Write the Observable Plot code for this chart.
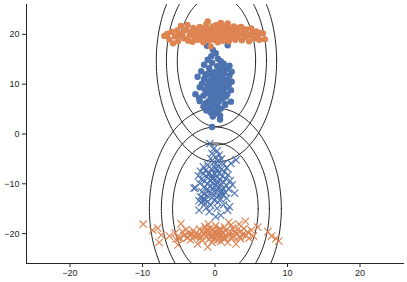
<!DOCTYPE html>
<html><head><meta charset="utf-8">
<script src="https://cdn.jsdelivr.net/npm/d3@7"></script>
<script src="https://cdn.jsdelivr.net/npm/@observablehq/plot@0.6"></script>
<style>body{margin:0;background:#fff}</style>
</head><body><div id="chart"></div>
<script>
const orangeCircles = [
[-7.0,19.7],[-6.6,20.1],[-6.3,19.0],[-6.0,20.5],[-5.8,18.2],[-5.5,19.6],[-5.2,20.8],[-5.1,18.6],[-4.9,19.9],[-4.7,21.7],
[-4.5,20.2],[-4.3,19.2],[-4.0,20.9],[-3.8,21.9],[-3.7,18.7],[-3.5,19.8],[-3.3,20.5],[-3.1,18.5],[-3.0,21.3],[-2.8,19.5],
[-2.7,20.1],[-2.5,20.9],[-2.4,18.9],[-2.2,19.7],[-2.1,21.5],[-2.0,20.3],[-1.8,19.1],[-1.7,20.7],[-1.6,18.4],[-1.5,21.2],
[-1.4,19.9],[-1.3,20.5],[-1.2,22.0],[-1.1,19.3],[-1.0,22.6],[-0.9,20.0],[-0.8,18.8],[-0.7,21.0],[-0.6,17.6],[-0.5,20.4],
[-0.4,19.5],[-0.3,21.6],[-0.2,20.1],[-0.1,18.9],[0.0,20.7],[0.1,19.8],[0.2,21.9],[0.3,20.3],[0.4,18.4],[0.5,19.6],
[0.6,21.2],[0.7,20.0],[0.8,22.3],[0.9,19.2],[1.0,20.6],[1.1,18.7],[1.2,21.4],[1.3,20.2],[1.4,19.5],[1.5,20.9],
[1.6,21.8],[1.75,22.2],[1.8,19.9],[1.9,18.6],[2.0,20.5],[2.2,21.1],[2.3,19.3],[2.5,20.2],[2.6,21.6],[2.8,18.9],
[2.9,20.7],[3.1,19.6],[3.2,21.3],[3.4,20.1],[3.6,21.5],[3.7,18.8],[3.9,20.4],[4.1,19.4],[4.3,21.0],[4.5,20.0],
[4.7,18.6],[4.9,19.8],[5.0,21.2],[5.2,20.4],[5.4,19.2],[5.7,20.6],[5.9,19.8],[6.1,18.9],[6.3,20.3],[6.6,20.2],[6.9,19.0]
];
const blueCircles = [
[-1.1,17.7],[1.75,17.8],[-0.3,16.9],[0.1,16.2],[-0.5,15.6],[0.4,15.1],[-1.0,14.9],[0.8,14.6],[-0.4,14.3],[1.2,14.1],
[-1.5,13.9],[2.0,13.7],[0.3,13.6],[-0.8,13.2],[1.6,13.0],[0.6,12.8],[-1.9,12.6],[2.3,12.5],[-0.1,12.4],[1.3,12.2],
[-1.2,12.0],[0.5,11.9],[2.0,11.7],[-0.5,11.6],[-2.4,11.5],[1.0,11.4],[0.0,11.2],[-1.5,11.0],[1.7,10.9],[0.6,10.8],
[-0.8,10.6],[2.3,10.5],[-0.3,10.4],[1.1,10.3],[-1.8,10.1],[0.4,10.0],[1.9,9.9],[-1.0,9.8],[0.1,9.6],[-2.1,9.4],
[1.4,9.3],[-0.5,9.2],[0.8,9.0],[-1.4,8.9],[2.2,8.8],[0.3,8.7],[-0.3,8.5],[-2.7,8.0],[1.1,8.4],[-1.1,8.2],
[1.7,8.0],[0.0,7.9],[-1.6,7.7],[0.6,7.6],[1.5,7.5],[-0.6,7.4],[-2.2,7.2],[1.0,7.1],[-0.1,6.9],[-2.1,6.6],
[2.2,6.5],[-0.9,6.6],[0.5,6.4],[-1.3,6.2],[1.4,6.1],[-0.4,6.0],[1.4,5.8],[0.3,5.6],[-1.6,5.5],[-0.8,5.3],
[0.8,5.1],[-0.3,4.9],[-1.2,4.7],[0.4,4.5],[-0.6,4.3],[0.1,4.1],[0.7,3.7],[-0.3,3.5],[0.7,2.9],[-0.4,1.4],
[0.0,8.1],[-0.4,10.9],[0.9,12.0],[-0.6,8.8],[0.5,9.5],[1.5,10.6],[-1.3,11.8],[0.2,7.3],
[0.3,11.5],[-0.2,9.9],[0.6,10.2],[-0.7,12.3],[0.2,6.6],[1.0,13.4]
];
const blueCrosses = [
[-0.7,-1.9],[-0.2,-3.0],[0.3,-3.4],[-0.4,-3.9],[0.6,-4.2],[0.1,-4.6],[-0.6,-4.9],[0.9,-5.0],[2.9,-5.2],[0.4,-5.4],
[-0.2,-5.7],[2.2,-5.9],[1.2,-6.0],[-1.0,-6.2],[0.5,-6.4],[-1.6,-6.6],[0.0,-6.7],[1.6,-6.8],[-0.5,-7.0],[0.9,-7.1],
[-1.3,-7.3],[0.3,-7.4],[-2.0,-7.5],[1.3,-7.6],[-0.8,-7.8],[0.6,-7.9],[-1.6,-8.0],[0.0,-8.1],[1.8,-8.2],[-0.4,-8.3],
[-2.3,-8.4],[1.0,-8.5],[-1.1,-8.6],[0.3,-8.7],[-0.2,-8.9],[1.5,-9.0],[-1.9,-9.1],[0.7,-9.2],[-0.7,-9.3],[2.1,-9.4],
[-1.4,-9.5],[0.2,-9.6],[1.2,-9.7],[-0.3,-9.8],[-2.1,-9.9],[0.8,-10.0],[-1.0,-10.1],[2.4,-10.2],[0.0,-10.3],[1.6,-10.4],
[-0.6,-10.5],[-1.5,-10.6],[0.5,-10.7],[-2.7,-10.8],[1.1,-10.9],[-2.9,-10.9],[-0.2,-11.0],[1.9,-11.1],[-1.2,-11.2],[0.3,-11.3],
[-0.8,-11.4],[0.9,-11.5],[-1.8,-11.6],[1.4,-11.7],[2.7,-11.9],[0.0,-11.8],[-0.5,-12.0],[-1.5,-12.1],[0.6,-12.2],[1.1,-12.3],
[-1.1,-12.4],[-2.0,-12.6],[0.2,-12.7],[-0.4,-12.8],[1.6,-12.9],[-1.6,-13.0],[-1.3,-13.2],[0.8,-13.1],[-2.2,-13.4],[-0.1,-13.3],
[-1.7,-13.5],[-1.0,-13.6],[0.4,-13.7],[-1.9,-13.8],[-1.4,-14.0],[2.0,-14.6],[1.2,-14.2],[-0.6,-14.3],[-2.2,-15.3],[-0.8,-15.6],
[0.1,-16.6],[0.8,-16.3],[1.75,-15.3],[-1.2,-14.8],[0.3,-14.9],[-0.4,-9.0],[0.4,-9.9],[-0.9,-8.0],[1.0,-12.0],[0.2,-7.0]
];
const orangeCrosses = [
[-9.9,-18.1],[-8.6,-19.3],[-7.9,-18.9],[-7.4,-20.3],[-7.7,-21.8],[-6.3,-20.5],[-5.5,-19.9],[-5.1,-22.3],[-5.0,-21.0],[-4.7,-18.0],
[-4.5,-19.6],[-4.3,-20.4],[-4.0,-19.2],[-3.8,-20.8],[-3.6,-19.8],[-3.4,-21.3],[-3.2,-20.1],[-3.0,-19.4],[-2.8,-20.6],[-2.6,-19.9],
[-2.4,-22.1],[-2.3,-20.3],[-2.1,-19.1],[-2.0,-20.9],[-1.8,-19.6],[-1.7,-21.4],[-1.5,-20.2],[-1.4,-18.6],[-1.3,-19.8],[-1.2,-20.7],
[-1.1,-19.3],[-1.0,-22.7],[-0.9,-20.0],[-0.8,-21.1],[-0.7,-18.9],[-0.6,-19.6],[-0.5,-20.5],[-0.4,-21.8],[-0.3,-19.2],[-0.2,-20.2],
[-0.1,-19.7],[0.0,-20.9],[0.1,-18.4],[0.2,-20.4],[0.3,-21.4],[0.4,-19.5],[0.5,-20.1],[0.6,-20.8],[0.7,-19.0],[0.8,-21.6],
[0.9,-20.3],[1.0,-19.8],[1.2,-20.6],[1.3,-18.7],[1.4,-21.0],[1.5,-19.4],[1.75,-21.8],[1.9,-17.7],[2.0,-20.2],[2.1,-19.6],
[2.3,-20.9],[2.4,-18.9],[2.6,-20.4],[2.7,-19.7],[2.9,-22.1],[3.0,-20.0],[3.1,-19.2],[3.3,-18.1],[3.4,-20.6],[3.6,-19.5],
[3.8,-20.2],[4.0,-19.0],[4.2,-17.5],[4.3,-20.4],[4.5,-19.7],[4.7,-20.9],[5.0,-19.3],[5.3,-20.5],[5.9,-18.7],[7.3,-19.6],
[7.8,-20.5],[8.4,-21.0],[8.8,-21.5],[-1.9,-20.4],[-0.6,-20.8],[0.3,-19.9],[1.1,-20.9],[-2.5,-20.6],[2.5,-20.7],[-1.0,-19.4],
[0.6,-19.4],[-0.2,-21.2],[1.6,-20.5],[-3.5,-20.4],[3.5,-21.0],[-4.8,-20.9],[-0.9,-18.1],[2.2,-18.3],[-5.4,-21.1],[-3.8,-20.8]
];
// contour ellipses: [upper group, lower group]
const contourCenterX = [0.2, 0.05];
const contourCenterY = [14.7, -15.0];
const contourHalfWidths = [[8.3, 6.9, 5.4], [9.1, 7.45, 5.9]];
const contourHalfHeights = [[20.3, 16.9, 13.2], [20.2, 16.4, 13.2]];
const xTicks = [-20, -10, 0, 10, 20];
const yTicks = [-20, -10, 0, 10, 20];
const blue = "#4c72b0", orange = "#dd8452";

const ellipsePts = [];
contourCenterX.forEach((cx, g) => {
  contourHalfWidths[g].forEach((a, k) => {
    const b = contourHalfHeights[g][k];
    for (let t = 0; t <= 360; t += 2) {
      const r = t * Math.PI / 180;
      ellipsePts.push({id: g + "-" + k, x: cx + a * Math.cos(r), y: contourCenterY[g] + b * Math.sin(r)});
    }
  });
});

const chart = Plot.plot({
  width: 407, height: 282,
  marginLeft: 26, marginRight: 4, marginTop: 4, marginBottom: 19,
  style: {fontFamily: "Liberation Sans, Arial, sans-serif", fontSize: "9px", color: "#262626", background: "#fff"},
  x: {domain: [-26, 26], ticks: xTicks, tickFormat: d3.format("d"), line: true, tickSize: 4, tickPadding: 2, label: null},
  y: {domain: [-26, 26], ticks: yTicks, tickFormat: d3.format("d"), line: true, tickSize: 4, tickPadding: 3, label: null},
  marks: [
    Plot.line(ellipsePts, {x: "x", y: "y", z: "id", stroke: "#222", strokeWidth: 1, clip: true, curve: "linear"}),
    Plot.dot(blueCircles, {x: d => d[0], y: d => d[1], r: 3.2, fill: blue}),
    Plot.dot(orangeCircles, {x: d => d[0], y: d => d[1], r: 3.2, fill: orange}),
    Plot.dot(blueCrosses, {x: d => d[0], y: d => d[1], r: 3.4, symbol: "times", stroke: blue, strokeWidth: 1.1}),
    Plot.dot(orangeCrosses, {x: d => d[0], y: d => d[1], r: 3.4, symbol: "times", stroke: orange, strokeWidth: 1.1})
  ]
});
document.getElementById("chart").appendChild(chart);
</script>
</body></html>
